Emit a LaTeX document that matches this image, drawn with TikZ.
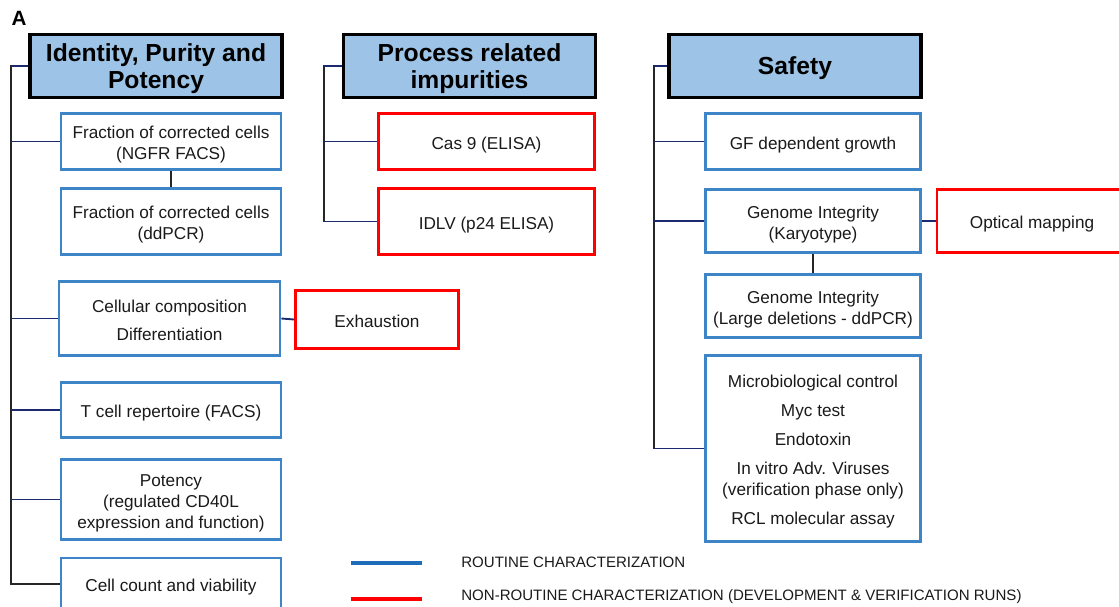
\documentclass[tikz,border=0pt]{standalone}
\usepackage{fontspec}
\setmainfont{Liberation Sans}
\definecolor{hdrfill}{HTML}{9DC3E6}
\definecolor{boxblue}{HTML}{3D85C6}
\definecolor{navy}{HTML}{1B2A6E}
\definecolor{legblue}{HTML}{1F6DB8}
\definecolor{txt}{HTML}{1A1A1A}
\newcommand\tx[1]{\raisebox{-2.6pt}[\height][\depth]{\begin{tabular}{@{}c@{}}#1\end{tabular}}}
\begin{document}
\begin{tikzpicture}[x=0.75pt,y=-0.75pt,
  sz/.style 2 args={minimum width=#1*0.75pt, minimum height=#2*0.75pt},
  hdr/.style={draw=black, line width=2.4pt, fill=hdrfill, inner sep=0pt,
    font=\bfseries\fontsize{18.5}{20.25}\selectfont},
  rbox/.style={draw=boxblue, line width=2.2pt, inner sep=0pt, text=txt,
    font=\fontsize{12.9}{15.75}\selectfont},
  nbox/.style={rbox, draw=red},
  conn/.style={draw=navy, line width=1.4pt},
  trunk/.style={draw=black!85, line width=1.4pt},
  legtext/.style={anchor=west, inner sep=0pt, text=txt, font=\fontsize{11.3}{13}\selectfont}]
\useasboundingbox (0,0) rectangle (1119,606);

\node[font=\bfseries\fontsize{15.5}{18}\selectfont, inner sep=0pt] (lblA) at (19,18.5) {A};

% ---------- Column 1
\node[hdr, sz={252}{63}] (h1) at (156,66) {\tx{Identity, Purity and\\Potency}};
\node[rbox, sz={220}{56}] (f1) at (171,141.5) {\tx{Fraction of corrected cells\\(NGFR FACS)}};
\node[rbox, sz={220}{66}] (f2) at (171,221.5) {\tx{Fraction of corrected cells\\(ddPCR)}};
\node[rbox, sz={221}{74}] (cc) at (169.5,318.5) {\tx{Cellular composition\\[5.25pt]Differentiation}};
\node[nbox, sz={163}{58}] (ex) at (377,319.5) {\tx{Exhaustion}};
\node[rbox, sz={220}{55}] (tc) at (171,410) {\tx{T cell repertoire (FACS)}};
\node[rbox, sz={220}{80}] (po) at (171,499.5) {\tx{Potency\\(regulated CD40L\\expression and function)}};
\node[rbox, sz={220}{52}] (cv) at (171,584) {\tx{Cell count and viability}};

\coordinate (tA) at (11,0);
\draw[trunk] (h1.west) -- (h1.west -| tA) |- (cv.west);
\draw[conn] (h1.west) -- (h1.west -| tA);
\draw[conn] (f1.west) -- (f1.west -| tA);
\draw[conn] (cc.west) -- (cc.west -| tA);
\draw[conn] (tc.west) -- (tc.west -| tA);
\draw[conn] (po.west) -- (po.west -| tA);
\draw[trunk] (f1.south) -- (f2.north);
\draw[conn] (cc.east) -- (ex.west);

% ---------- Column 2
\node[hdr, sz={252}{63}] (h2) at (469.5,66) {\tx{Process related\\impurities}};
\node[nbox, sz={216}{56}] (cas) at (486.5,141.5) {\tx{Cas 9 (ELISA)}};
\node[nbox, sz={216}{66}] (idlv) at (486.5,221.5) {\tx{IDLV (p24 ELISA)}};

\coordinate (tB) at (324,0);
\draw[trunk] (h2.west) -- (h2.west -| tB) |- (idlv.west);
\draw[conn] (h2.west) -- (h2.west -| tB);
\draw[conn] (cas.west) -- (cas.west -| tB);
\draw[conn] (idlv.west) -- (idlv.west -| tB);

% ---------- Column 3
\node[hdr, sz={252}{63}] (h3) at (795,66) {\tx{Safety}};
\node[rbox, sz={215}{56}] (gf) at (813,141.5) {\tx{GF dependent growth}};
\node[rbox, sz={215}{63}] (gi) at (813,221) {\tx{Genome Integrity\\(Karyotype)}};
\node[nbox, sz={190}{63}] (om) at (1032,221) {\tx{Optical mapping}};
\node[rbox, sz={215}{63}] (gl) at (813,306) {\tx{Genome Integrity\\(Large deletions - ddPCR)}};
\node[rbox, sz={215}{186}] (mb) at (813,448.5) {\tx{Microbiological control\\[6pt]Myc test\\[6pt]Endotoxin\\[6pt]In vitro Adv. Viruses\\(verification phase only)\\[6pt]RCL molecular assay}};

\coordinate (tC) at (654,0);
\draw[trunk] (h3.west) -- (h3.west -| tC) |- (mb.west);
\draw[conn] (h3.west) -- (h3.west -| tC);
\draw[conn] (gf.west) -- (gf.west -| tC);
\draw[conn] (gi.west) -- (gi.west -| tC);
\draw[conn] (mb.west) -- (mb.west -| tC);
\draw[trunk] (gi.south) -- (gl.north);
\draw[conn] (gi.east) -- (om.west);

% ---------- Legend
\coordinate (lb1) at (351,563);
\coordinate (lb2) at (422,563);
\coordinate (lr1) at (351,599);
\coordinate (lr2) at (422,599);
\draw[legblue, line width=2.6pt] (lb1) -- (lb2);
\draw[red, line width=2.6pt] (lr1) -- (lr2);
\node[legtext] (lt1) at (461,562) {ROUTINE CHARACTERIZATION};
\node[legtext] (lt2) at (461,597) {NON-ROUTINE CHARACTERIZATION (DEVELOPMENT \& VERIFICATION RUNS)};
\end{tikzpicture}
\end{document}
